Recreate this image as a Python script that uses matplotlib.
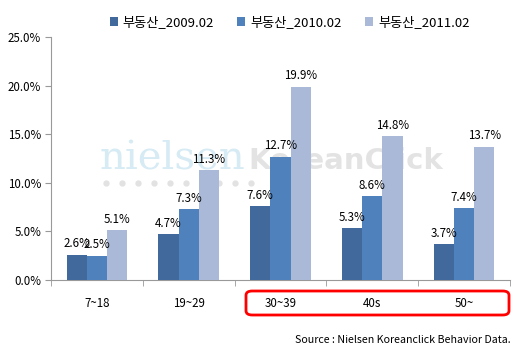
import matplotlib.pyplot as plt
import numpy as np
from matplotlib.patches import FancyBboxPatch

plt.rcParams['font.family'] = ['Noto Sans CJK KR', 'DejaVu Sans']

categories = ['7~18', '19~29', '30~39', '40s', '50~']
series_names = ['부동산_2009.02', '부동산_2010.02', '부동산_2011.02']
v2009 = [2.6, 4.7, 7.6, 5.3, 3.7]
v2010 = [2.5, 7.3, 12.7, 8.6, 7.4]
v2011 = [5.1, 11.3, 19.9, 14.8, 13.7]
colors = ['#41699B', '#4F81BD', '#AAB9D8']

fig = plt.figure(figsize=(5.2, 3.55), dpi=100)
ax = fig.add_axes([51 / 520, 75 / 355, 459 / 520, 243 / 355])

# watermark
ax.text(0.105, 0.50, 'nielsen', transform=ax.transAxes, fontsize=29, family='DejaVu Serif',
        color='#CDE6F2', alpha=0.8, va='center', zorder=1)
ax.text(0.43, 0.49, 'KoreanClick', transform=ax.transAxes, fontsize=21, weight='bold',
        family='DejaVu Sans', color='#DDDDDD', alpha=0.8, va='center', zorder=1)
for k in range(10):
    ax.plot(0.12 + k * 0.035, 0.40, 'o', ms=3.5, color='#E2E2E2', transform=ax.transAxes, zorder=1)

x = np.arange(len(categories))
w = 0.22
for i, (vals, name) in enumerate(zip([v2009, v2010, v2011], series_names)):
    pos = x + (i - 1) * w
    ax.bar(pos, vals, width=w, color=colors[i], label=name, zorder=3)
    for p, v in zip(pos, vals):
        ax.text(p, v + 0.45, f'{v:.1f}%', ha='center', va='bottom', fontsize=8.3, zorder=4)

ax.set_xlim(-0.5, len(categories) - 0.5)
ax.set_ylim(0, 25)
ax.set_yticks(np.arange(0, 26, 5))
ax.set_yticklabels([f'{t:.1f}%' for t in np.arange(0, 26, 5)], fontsize=8.3)
ax.set_xticks(x)
ax.set_xticklabels(categories, fontsize=8.3)
ax.set_xticks(np.arange(-0.5, len(categories), 1), minor=True)
ax.tick_params(axis='x', which='major', length=0, pad=12)
ax.tick_params(axis='x', which='minor', length=4, color='#999999')
ax.tick_params(axis='y', length=4, color='#999999', pad=3)
for s in ['top', 'right']:
    ax.spines[s].set_visible(False)
for s in ['left', 'bottom']:
    ax.spines[s].set_color('#999999')

ax.legend(loc='upper center', bbox_to_anchor=(0.52, 1.135), ncol=3, frameon=False,
          fontsize=9.5, handlelength=0.6, handleheight=0.6, columnspacing=1.75, handletextpad=0.4)

box = FancyBboxPatch((246 / 520, 40 / 355), 263 / 520, 24 / 355, transform=fig.transFigure,
                     boxstyle='round,pad=0,rounding_size=0.012', fill=False,
                     edgecolor='#FF0000', linewidth=2)
fig.patches.append(box)

fig.text(511 / 520, 15 / 355, 'Source : Nielsen Koreanclick Behavior Data.', ha='right',
         va='center', fontsize=7.7)

fig.savefig('out.png', dpi=100)
